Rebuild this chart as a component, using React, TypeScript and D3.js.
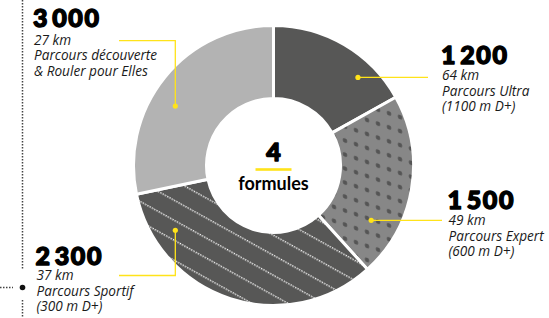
import React from "react";
import * as d3 from "d3";

// ---- data ----
const participants = ["1 200", "1 500", "2 300", "3 000"];
const distances = ["64 km", "49 km", "37 km", "27 km"];
const routeLine1 = ["Parcours Ultra", "Parcours Expert", "Parcours Sportif", "Parcours découverte"];
const routeLine2 = ["(1100 m D+)", "(600 m D+)", "(300 m D+)", "& Rouler pour Elles"];
// share of the ring each slice occupies in the picture (percent)
const ringShare = [16.9, 21.4, 33.4, 28.3];
const centerNumber = "4";
const centerLabel = "formules";

// ---- layout / style ----
const W = 549;
const H = 318;
const CX = 273.5;
const CY = 165.5;
const R_OUT = 140;
const R_IN = 67;
const YELLOW = "#ffe31a";
const fills = ["#575756", "url(#dots)", "url(#stripes)", "#b3b3b3"];
// annotation anchor (angle deg clockwise from top, radius) + label block position + elbow style
const anchors = [
  { a: 43.8, r: 122, lx: 441, ly: 64.3, first: 15.8, endX: 428, kind: "h" },
  { a: 119.3, r: 112, lx: 447.5, ly: 208.5, first: 16.3, endX: 442, kind: "h" },
  { a: 236.6, r: 117.6, lx: 35.5, ly: 264.5, first: 15.8, endX: 119, elbowY: 275.5, kind: "elbow" },
  { a: 301.2, r: 114.8, lx: 33, ly: 26.5, first: 18, endX: 119, elbowY: 40.7, kind: "elbow" },
];

export default function App() {
  const pie = d3
    .pie<number>()
    .sort(null)
    .value((d) => d)
    .startAngle(0)
    .endAngle(2 * Math.PI);
  const arcs = pie(ringShare);
  const arcGen = d3.arc<d3.PieArcDatum<number>>().innerRadius(R_IN).outerRadius(R_OUT);

  const polar = (aDeg: number, r: number) => {
    const t = (aDeg * Math.PI) / 180;
    return [CX + r * Math.sin(t), CY - r * Math.cos(t)];
  };

  const numFont = "Lato, 'Open Sans', sans-serif";

  return (
    <svg
      width={W}
      height={H}
      viewBox={`0 0 ${W} ${H}`}
      style={{ position: "absolute", left: 0, top: 0, background: "#fff" }}
    >
      <defs>
        <pattern
          id="dots"
          patternUnits="userSpaceOnUse"
          width={11}
          height={14}
          patternTransform="skewY(18.6)"
        >
          <rect width={11} height={14} fill="#878787" />
          <circle cx={5.5} cy={7} r={2.3} fill="#555555" />
        </pattern>
        <pattern
          id="stripes"
          patternUnits="userSpaceOnUse"
          width={26}
          height={17.5}
          patternTransform="rotate(29)"
        >
          <rect width={26} height={17.5} fill="#575756" />
          <line
            x1={0}
            x2={26}
            y1={8.5}
            y2={8.5}
            stroke="#ffffff"
            strokeWidth={1.4}
            strokeDasharray="1.3 1.3"
          />
        </pattern>
      </defs>

      {/* left timeline */}
      <g stroke="#444" strokeWidth={1.5} strokeDasharray="1.5 1.5">
        <line x1={22.5} x2={22.5} y1={0} y2={270} />
        <line x1={22.5} x2={22.5} y1={300} y2={318} />
        <line x1={0} x2={13} y1={287.5} y2={287.5} />
      </g>
      <circle cx={22.5} cy={287.5} r={2.8} fill="#111" />

      {/* ring */}
      <g transform={`translate(${CX},${CY})`}>
        {arcs.map((a, i) => (
          <path key={i} d={arcGen(a) || ""} fill={fills[i]} stroke="#fff" strokeWidth={3} />
        ))}
      </g>

      {/* leaders */}
      {anchors.map((an, i) => {
        const [px, py] = polar(an.a, an.r);
        const d =
          an.kind === "h"
            ? `M${px},${py}H${an.endX}`
            : `M${px},${py}V${an.elbowY}H${an.endX}`;
        return (
          <g key={i}>
            <path d={d} fill="none" stroke={YELLOW} strokeWidth={1.3} />
            <circle cx={px} cy={py} r={2.6} fill={YELLOW} />
          </g>
        );
      })}

      {/* labels */}
      {anchors.map((an, i) => (
        <g key={"l" + i}>
          <text
            x={an.lx}
            y={an.ly}
            fontFamily={numFont}
            fontWeight={900}
            fontSize={25}
            letterSpacing={1.6}
            stroke="#000"
            strokeWidth={1.4}
            strokeLinejoin="round"
            fill="#000"
          >
            {participants[i].replace(" ", "\u200A")}
          </text>
          <text
            fontFamily="'Open Sans', 'Noto Sans', sans-serif"
            fontStyle="italic"
            fontSize={13.6}
            fill="#1a1a1a"
          >
            <tspan x={an.lx + 1} y={an.ly + an.first}>
              {distances[i]}
            </tspan>
            <tspan x={an.lx + 1} y={an.ly + an.first + 15.8}>
              {routeLine1[i]}
            </tspan>
            <tspan x={an.lx + 1} y={an.ly + an.first + 31}>
              {routeLine2[i]}
            </tspan>
          </text>
        </g>
      ))}

      {/* center */}
      <text
        x={CX}
        y={161}
        textAnchor="middle"
        fontFamily={numFont}
        fontWeight={900}
        fontSize={25}
        stroke="#000"
        strokeWidth={1.4}
        strokeLinejoin="round"
        fill="#000"
      >
        {centerNumber}
      </text>
      <rect x={CX - 18} y={168.2} width={36} height={2.6} fill={YELLOW} />
      <text
        x={CX}
        y={190}
        textAnchor="middle"
        fontFamily="Lato, sans-serif"
        fontWeight={700}
        fontSize={18}
        fill="#000"
      >
        {centerLabel}
      </text>
    </svg>
  );
}
